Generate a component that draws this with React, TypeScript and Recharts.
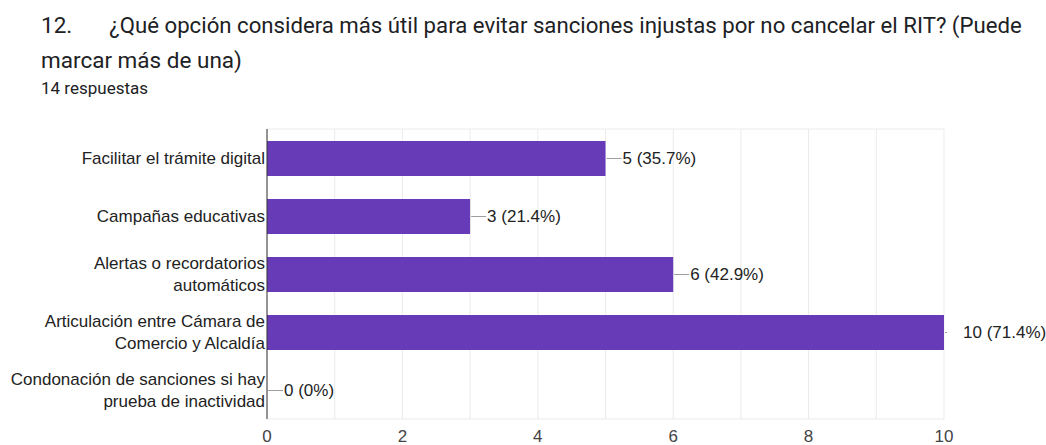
import { Bar, BarChart, CartesianGrid, LabelList, XAxis, YAxis } from "recharts";

// Encuesta, pregunta 12 — conteo de respuestas por opción (14 respuestas).
const categorias = [
  "Facilitar el trámite digital",
  "Campañas educativas",
  "Alertas o recordatorios\nautomáticos",
  "Articulación entre Cámara de\nComercio y Alcaldía",
  "Condonación de sanciones si hay\nprueba de inactividad",
];
const conteos = [5, 3, 6, 10, 0];
const porcentajes = ["35.7", "21.4", "42.9", "71.4", "0"];
const ticksX = [0, 1, 2, 3, 4, 5, 6, 7, 8, 9, 10];
const maxX = 10;

const data = categorias.map((name, i) => ({
  name,
  value: conteos[i],
  pct: porcentajes[i],
}));

const FONT = "Arial, 'Liberation Sans', sans-serif";
const PURPLE = "#673ab7";

function CategoryTick(props: any) {
  const { x, y, payload } = props;
  const lines = String(payload.value).split("\n");
  const lh = 22;
  const start = y - ((lines.length - 1) * lh) / 2;
  return (
    <text
      x={x}
      y={start}
      textAnchor="end"
      fontFamily={FONT}
      fontSize={17}
      fill="#222"
    >
      {lines.map((l, i) => (
        <tspan key={i} x={x} y={start + i * lh} dy="0.35em">
          {l}
        </tspan>
      ))}
    </text>
  );
}

function ValueLabel(props: any) {
  const { x, y, width, height, index } = props;
  const d = data[index];
  const end = x + (d.value === 0 ? 0 : width);
  const cy = y + height / 2;
  const atEdge = d.value >= maxX;
  return (
    <g>
      <line
        x1={end + 1}
        x2={atEdge ? end + 3 : end + 16}
        y1={cy}
        y2={cy}
        stroke="#9e9e9e"
        strokeWidth={1}
      />
      <text
        x={atEdge ? end + 19 : end + 17}
        y={cy}
        dy="0.35em"
        fontFamily={FONT}
        fontSize={17}
        fill="#222"
      >
        {`${d.value} (${d.pct}%)`}
      </text>
    </g>
  );
}

export default function App() {
  return (
    <div
      style={{
        position: "absolute",
        left: 0,
        top: 0,
        width: 1046,
        height: 445,
        background: "#fff",
        overflow: "hidden",
      }}
    >
      <div
        style={{
          position: "absolute",
          left: 41,
          top: 8,
          fontFamily: "Roboto, sans-serif",
          fontSize: 22.5,
          lineHeight: "35px",
          color: "#202124",
          whiteSpace: "nowrap",
        }}
      >
        <div>
          12.
          <span style={{ marginLeft: 37, fontSize: 22.2 }}>
            ¿Qué opción considera más útil para evitar sanciones injustas por
            no cancelar el RIT? (Puede
          </span>
        </div>
        <div>marcar más de una)</div>
      </div>
      <div
        style={{
          position: "absolute",
          left: 41,
          top: 78,
          fontFamily: "Roboto, sans-serif",
          fontSize: 17,
          lineHeight: "20px",
          color: "#202124",
        }}
      >
        14 respuestas
      </div>
      <div style={{ position: "absolute", left: 0, top: 0 }}>
        <BarChart
          width={1046}
          height={445}
          data={data}
          layout="vertical"
          margin={{ top: 129, right: 102, bottom: 0, left: 0 }}
        >
          <CartesianGrid
            stroke="#ebebeb"
            horizontalCoordinatesGenerator={({ offset }: any) => [
              offset.top,
              offset.top + offset.height,
            ]}
          />
          <XAxis
            type="number"
            domain={[0, maxX]}
            ticks={ticksX}
            interval={0}
            height={26}
            axisLine={false}
            tickLine={false}
            tickSize={0}
            tickMargin={11}
            tickFormatter={(v: number) => (v % 2 === 0 ? String(v) : "")}
            tick={{ fontFamily: FONT, fontSize: 17, fill: "#444" }}
          />
          <YAxis
            type="category"
            dataKey="name"
            width={267}
            axisLine={{ stroke: "#333", strokeWidth: 1 }}
            tickLine={false}
            tickSize={0}
            tickMargin={2}
            interval={0}
            tick={<CategoryTick />}
          />
          <Bar
            dataKey="value"
            fill={PURPLE}
            barSize={35}
            minPointSize={0.01}
            isAnimationActive={false}
          >
            <LabelList dataKey="value" content={<ValueLabel />} />
          </Bar>
        </BarChart>
      </div>
    </div>
  );
}
